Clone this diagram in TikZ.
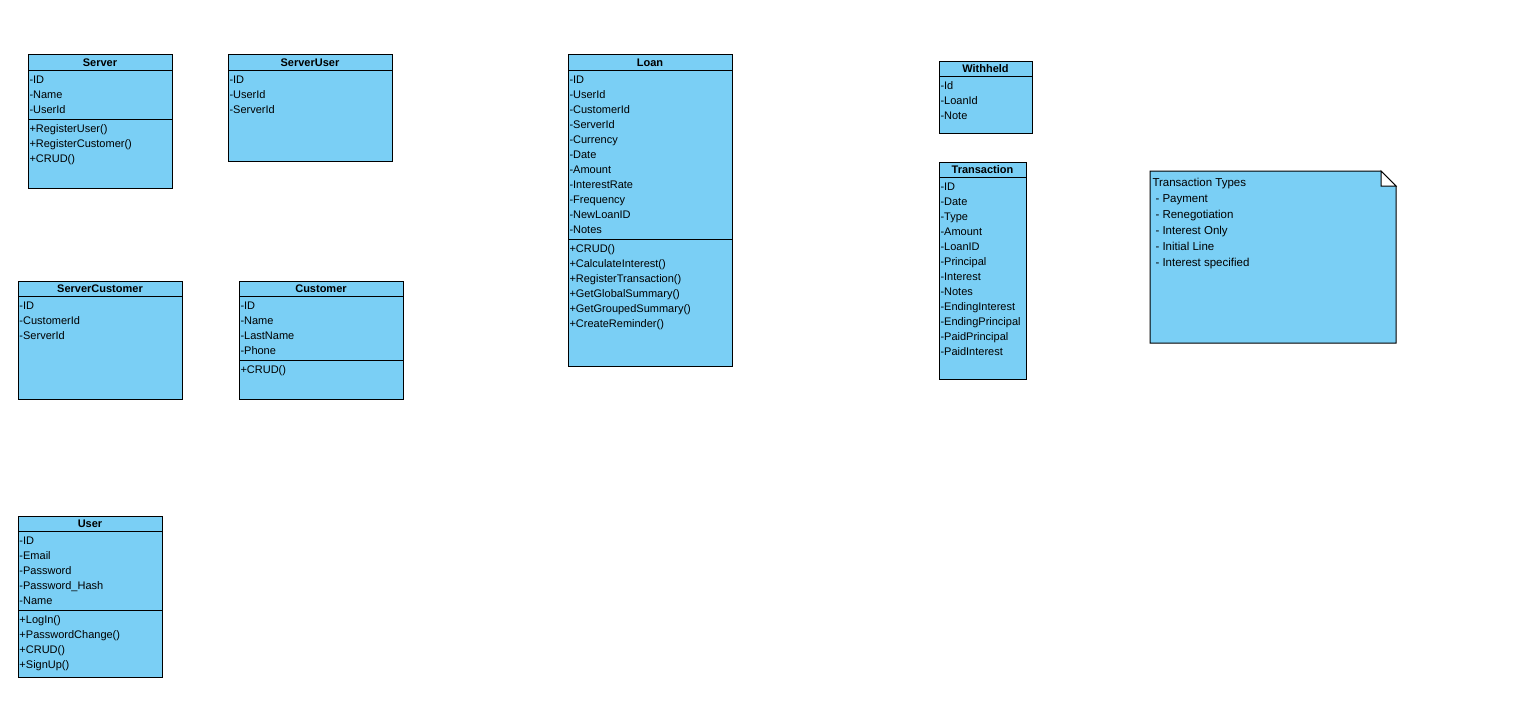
\documentclass[tikz,border=0pt]{standalone}
\usepackage{fontspec}
\setmainfont{Liberation Sans}
\usepackage{xcolor}
\usepackage{tikz}
\usetikzlibrary{positioning,calc}
\definecolor{classblue}{RGB}{122,207,245}

\begin{document}
\begin{tikzpicture}[x=1pt,y=-1pt,line width=1pt,
  classbox/.style={draw=black,fill=classblue,anchor=north west,inner sep=0pt},
  classtitle/.style={anchor=base,inner sep=0pt,font=\fontsize{11}{13}\selectfont\bfseries},
  member/.style={anchor=base west,inner sep=0pt,font=\fontsize{11}{13}\selectfont},
  notetext/.style={anchor=base west,inner sep=0pt,font=\fontsize{11.5}{13}\selectfont}]
\useasboundingbox (0,0) rectangle (1534,715);

% Server
\node [classbox, minimum width=144, minimum height=134] (server) at (28,54) {};
\node [classtitle] (server-title) at (100,66) {Server};
\draw (server.west |- 0,70) -- (server.east |- 0,70);
\foreach \t [count=\i] in {-ID,-Name,-UserId}
  \node [member] (server-a\i) at (29,68+15*\i) {\t};
\draw (server.west |- 0,119) -- (server.east |- 0,119);
\foreach \t [count=\i] in {+RegisterUser(),+RegisterCustomer(),+CRUD()}
  \node [member] (server-m\i) at (29,117+15*\i) {\t};

% ServerUser
\node [classbox, minimum width=164, minimum height=107] (serveruser) at (228,54) {};
\node [classtitle] (serveruser-title) at (310,66) {ServerUser};
\draw (serveruser.west |- 0,70) -- (serveruser.east |- 0,70);
\foreach \t [count=\i] in {-ID,-UserId,-ServerId}
  \node [member] (serveruser-a\i) at (229,68+15*\i) {\t};

% ServerCustomer
\node [classbox, minimum width=164, minimum height=118] (servercustomer) at (18,281) {};
\node [classtitle] (servercustomer-title) at (100,292) {ServerCustomer};
\draw (servercustomer.west |- 0,296) -- (servercustomer.east |- 0,296);
\foreach \t [count=\i] in {-ID,-CustomerId,-ServerId}
  \node [member] (servercustomer-a\i) at (19,294+15*\i) {\t};

% Customer
\node [classbox, minimum width=164, minimum height=118] (customer) at (239,281) {};
\node [classtitle] (customer-title) at (321,292) {Customer};
\draw (customer.west |- 0,296) -- (customer.east |- 0,296);
\foreach \t [count=\i] in {-ID,-Name,-LastName,-Phone}
  \node [member] (customer-a\i) at (240,294+15*\i) {\t};
\draw (customer.west |- 0,360) -- (customer.east |- 0,360);
\node [member] (customer-m1) at (240,373) {+CRUD()};

% User
\node [classbox, minimum width=144, minimum height=161] (user) at (18,516) {};
\node [classtitle] (user-title) at (90,527) {User};
\draw (user.west |- 0,531) -- (user.east |- 0,531);
\foreach \t [count=\i] in {-ID,-Email,-Password,-Password\_Hash,-Name}
  \node [member] (user-a\i) at (19,529+15*\i) {\t};
\draw (user.west |- 0,610) -- (user.east |- 0,610);
\foreach \t [count=\i] in {+LogIn(),+PasswordChange(),+CRUD(),+SignUp()}
  \node [member] (user-m\i) at (19,608+15*\i) {\t};

% Loan
\node [classbox, minimum width=164, minimum height=312] (loan) at (568,54) {};
\node [classtitle] (loan-title) at (650,66) {Loan};
\draw (loan.west |- 0,70) -- (loan.east |- 0,70);
\foreach \t [count=\i] in {-ID,-UserId,-CustomerId,-ServerId,-Currency,-Date,-Amount,-InterestRate,-Frequency,-NewLoanID,-Notes}
  \node [member] (loan-a\i) at (569,68+15*\i) {\t};
\draw (loan.west |- 0,239) -- (loan.east |- 0,239);
\foreach \t [count=\i] in {+CRUD(),+CalculateInterest(),+RegisterTransaction(),+GetGlobalSummary(),+GetGroupedSummary(),+CreateReminder()}
  \node [member] (loan-m\i) at (569,237+15*\i) {\t};

% Withheld
\node [classbox, minimum width=93, minimum height=72] (withheld) at (939,61) {};
\node [classtitle] (withheld-title) at (985.5,72) {Withheld};
\draw (withheld.west |- 0,76) -- (withheld.east |- 0,76);
\foreach \t [count=\i] in {-Id,-LoanId,-Note}
  \node [member] (withheld-a\i) at (940,74+15*\i) {\t};

% Transaction
\node [classbox, minimum width=87, minimum height=217] (transaction) at (939,162) {};
\node [classtitle] (transaction-title) at (982.5,173) {Transaction};
\draw (transaction.west |- 0,177) -- (transaction.east |- 0,177);
\foreach \t [count=\i] in {-ID,-Date,-Type,-Amount,-LoanID,-Principal,-Interest,-Notes,-EndingInterest,-EndingPrincipal,-PaidPrincipal,-PaidInterest}
  \node [member] (transaction-a\i) at (940,175+15*\i) {\t};

% note
\draw [fill=classblue] (1150,171) -- (1381,171) -- (1396,186) -- (1396,343) -- (1150,343) -- cycle;
\draw [fill=white] (1381,171) -- (1381,186) -- (1396,186) -- cycle;
\node [notetext] (note-title) at (1152,186) {Transaction Types};
\foreach \t [count=\i] in {Payment,Renegotiation,Interest Only,Initial Line,Interest specified}
  \node [notetext] (note-l\i) at (1155,186+16*\i) {- \t};
\end{tikzpicture}
\end{document}
